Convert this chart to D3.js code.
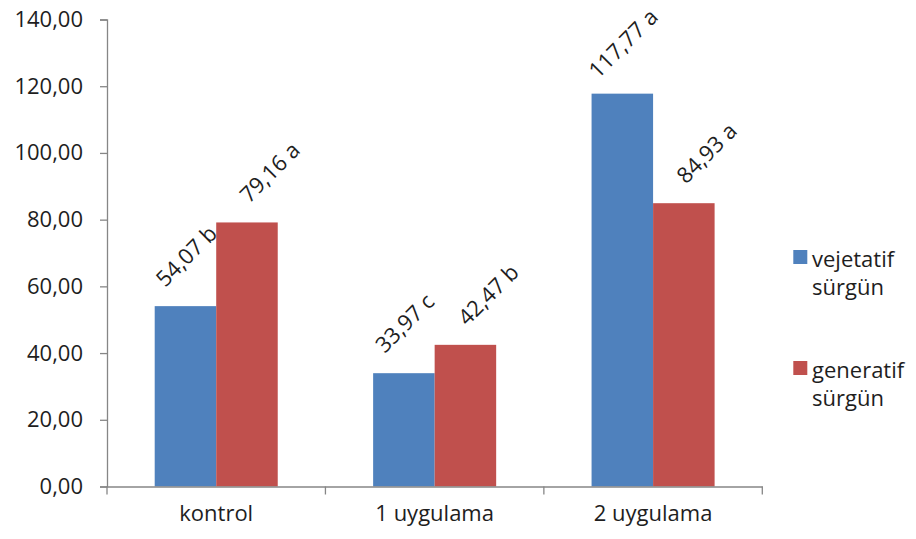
<!DOCTYPE html>
<html>
<head>
<meta charset="utf-8">
<script src="https://cdn.jsdelivr.net/npm/d3@7"></script>
<style>
  html, body { margin: 0; padding: 0; background: #fff; }
  svg { display: block; }
  text { font-family: "Open Sans", "Noto Sans", sans-serif; fill: #1e1e1e; }
</style>
</head>
<body>
<svg id="chart" width="916" height="539"></svg>
<script>
const categories = ["kontrol", "1 uygulama", "2 uygulama"];
const seriesNames = [["vejetatif", "sürgün"], ["generatif", "sürgün"]];
const vejetatif = [54.07, 33.97, 117.77];
const generatif = [79.16, 42.47, 84.93];
const vejetatifLetters = ["b", "c", "a"];
const generatifLetters = ["a", "b", "a"];
const yTicks = [0, 20, 40, 60, 80, 100, 120, 140];
const colors = ["#4F81BD", "#C0504D"];

const svg = d3.select("#chart");
const mLeft = 107, mRight = 762.3, mTop = 19.5, mBottom = 486.5;
const fontSize = "22px";

const x = d3.scaleBand().domain(categories).range([mLeft, mRight]).paddingInner(0).paddingOuter(0);
const inner = d3.scaleBand().domain([0, 1]).range([47.7, x.bandwidth() - 47.7]);
const y = d3.scaleLinear().domain([0, 140]).range([mBottom, mTop]);

const fmt = v => v.toFixed(2).replace(".", ",");

// Y axis
const yAxis = svg.append("g").attr("transform", `translate(${mLeft},0)`)
  .call(d3.axisLeft(y).tickValues(yTicks).tickFormat(fmt).tickSize(7).tickPadding(17));
yAxis.select(".domain").attr("stroke", "#868686").attr("stroke-width", 1.3);
yAxis.selectAll(".tick line").attr("stroke", "#868686").attr("stroke-width", 1.3);
yAxis.selectAll(".tick text").style("font-size", fontSize).attr("fill", "#1e1e1e")
  .style("font-family", "'Open Sans', sans-serif");

const series = [vejetatif, generatif];
const letters = [vejetatifLetters, generatifLetters];

// Bars
series.forEach((vals, si) => {
  svg.append("g").selectAll("rect").data(vals).join("rect")
    .attr("x", (d, i) => x(categories[i]) + inner(si))
    .attr("y", d => y(d))
    .attr("width", inner.bandwidth())
    .attr("height", d => y(0) - y(d))
    .attr("fill", colors[si]);
});

// X axis
const xAxis = svg.append("g").attr("transform", `translate(0,${mBottom})`)
  .call(d3.axisBottom(x).tickSize(0).tickPadding(16));
xAxis.select(".domain").attr("stroke", "#868686").attr("stroke-width", 1.3);
xAxis.selectAll(".tick text").style("font-size", fontSize).attr("fill", "#1e1e1e")
  .style("font-family", "'Open Sans', sans-serif").attr("dy", "0.85em");
// boundary ticks
const bounds = categories.map(c => x(c)).concat([mRight]);
svg.append("g").selectAll("line").data(bounds).join("line")
  .attr("x1", d => d).attr("x2", d => d)
  .attr("y1", mBottom).attr("y2", mBottom + 8)
  .attr("stroke", "#868686").attr("stroke-width", 1.3);

// Data labels
const labelDx = [0, 22];
series.forEach((vals, si) => {
  svg.append("g").selectAll("text").data(vals).join("text")
    .attr("transform", (d, i) => {
      const cx = x(categories[i]) + inner(si) + inner.bandwidth() / 2 + labelDx[si];
      const cy = y(d) - 51;
      return `translate(${cx},${cy}) rotate(-45)`;
    })
    .attr("text-anchor", "middle")
    .attr("dominant-baseline", "central")
    .style("font-size", fontSize)
    .text((d, i) => fmt(d) + " " + letters[si][i]);
});

// Legend
const legendTop = [250, 361];
seriesNames.forEach((lines, si) => {
  const g = svg.append("g");
  g.append("rect").attr("x", 793.3).attr("y", legendTop[si]).attr("width", 14).attr("height", 14)
    .attr("fill", colors[si]);
  lines.forEach((t, li) => {
    g.append("text").attr("x", 812).attr("y", legendTop[si] + 16.5 + li * 28)
      .style("font-size", fontSize).text(t);
  });
});
</script>
</body>
</html>
